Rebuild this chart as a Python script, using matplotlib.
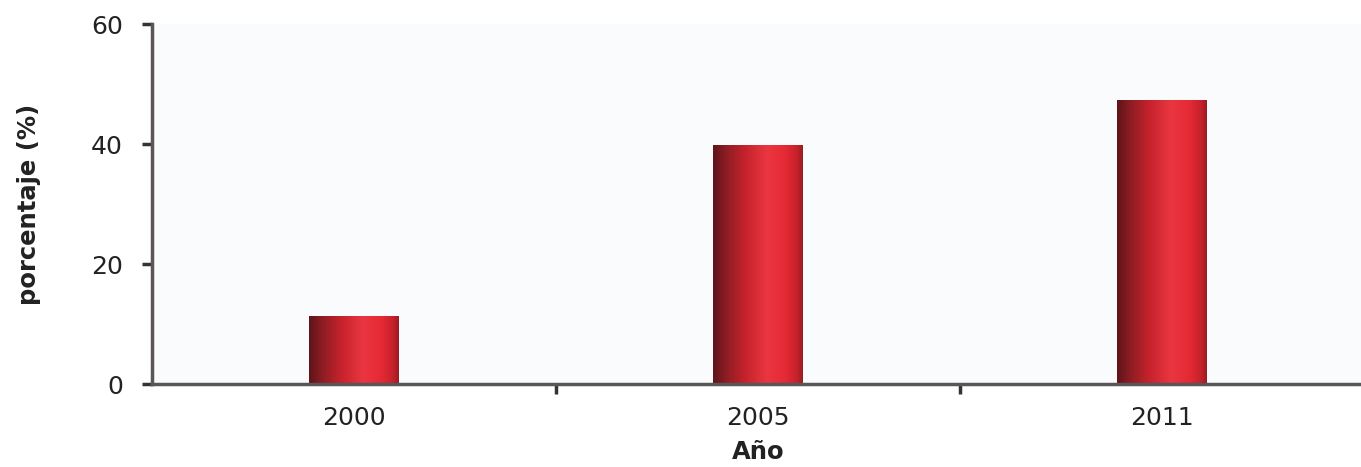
import matplotlib
matplotlib.use("Agg")
import matplotlib.pyplot as plt
import numpy as np
from matplotlib.colors import LinearSegmentedColormap

years = ["2000", "2005", "2011"]
values = [11.3, 39.9, 47.3]
y_ticks = [0, 20, 40, 60]

plt.rcParams['font.family'] = ['DejaVu Sans']

fig = plt.figure(figsize=(13.61, 4.67), dpi=100)
ax = fig.add_axes([0.1117, 0.1777, 0.8905, 0.7709])
ax.set_facecolor("#fafbfd")

x = np.arange(len(years))
bars = ax.bar(x, values, width=0.222, color="none", edgecolor="none", zorder=2)

cmap = LinearSegmentedColormap.from_list("cyl", [
    (0.0, "#5e1519"), (0.15, "#8e1d24"), (0.35, "#c4222c"),
    (0.6, "#ea3640"), (0.8, "#e52a35"), (0.93, "#c8222c"), (1.0, "#9a1c23")])
grad = np.linspace(0, 1, 256).reshape(1, -1)
for b in bars:
    x0, y0 = b.get_x(), b.get_y()
    w, h = b.get_width(), b.get_height()
    im = ax.imshow(grad, cmap=cmap, aspect="auto", extent=(x0, x0 + w, y0, y0 + h),
                   zorder=2, interpolation="bilinear")
    im.set_clip_path(b)

ax.set_xlim(-0.5, 2.5)
ax.set_ylim(0, 60)
ax.set_yticks(y_ticks)
ax.set_xticks(x)
ax.set_xticklabels(years)
ax.set_xticks([0.5, 1.5], minor=True)
ax.tick_params(axis="x", which="major", length=0, pad=16, labelsize=18, colors="#222222")
ax.tick_params(axis="x", which="minor", length=7, width=2.5, color="#333333")
ax.tick_params(axis="y", length=7, width=2.5, color="#333333", pad=14, labelsize=18, labelcolor="#222222")

for s in ["top", "right"]:
    ax.spines[s].set_visible(False)
for s in ["left", "bottom"]:
    ax.spines[s].set_linewidth(2.5)
    ax.spines[s].set_color("#5a5556")

ax.set_xlabel("Año", fontsize=17.5, fontweight="bold", labelpad=7, color="#222222")
ax.set_ylabel("porcentaje (%)", fontsize=17.5, fontweight="bold", labelpad=36, color="#222222")

fig.savefig("out.png", dpi=100)
